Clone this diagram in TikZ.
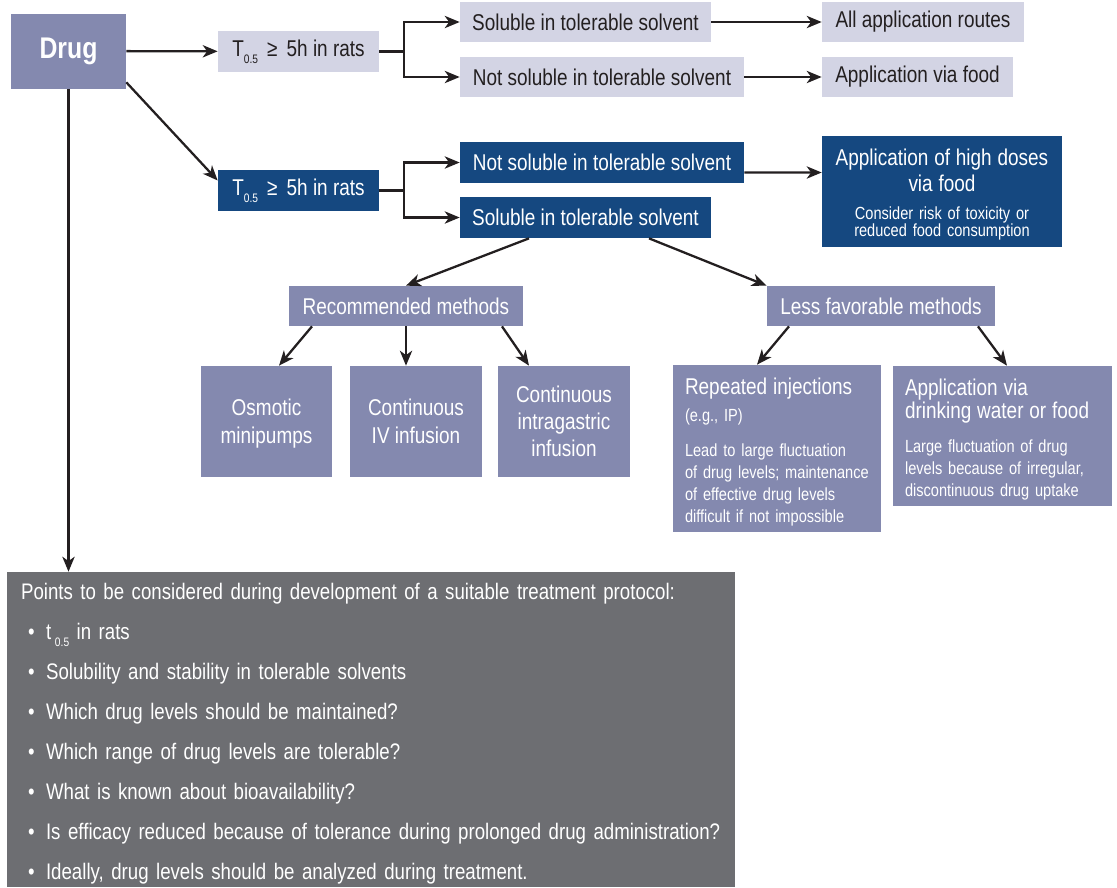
\documentclass[tikz,border=0pt]{standalone}
\usepackage{fontspec}
\setmainfont{Liberation Sans}[FakeStretch=0.83]
\usepackage{tikz}
\usetikzlibrary{arrows.meta}

\definecolor{druglilac}{RGB}{132,137,175}
\definecolor{palelilac}{RGB}{211,212,228}
\definecolor{deepblue}{RGB}{21,72,128}
\definecolor{notegray}{RGB}{109,110,114}
\definecolor{inkblack}{RGB}{35,31,32}

\newcommand{\tsub}{\raisebox{-0.6ex}{\fontsize{7}{7}\selectfont 0.5}}
\newcommand{\gitem}{\makebox[0.5cm][l]{\hspace{0.14cm}\textbullet}}
\newcommand{\bigln}[1]{{\fontsize{13}{15}\selectfont #1}}

\begin{document}
\begin{tikzpicture}
		[x=0.02cm,y=-0.02cm,
		every node/.style={rectangle,inner sep=0pt,text=white,font=\fontsize{13}{15.6}\selectfont},
		pale/.style={fill=palelilac,text=inkblack},
		navy/.style={fill=deepblue},
		lilac/.style={fill=druglilac},
		smalltext/.style={font=\fontsize{10}{12.5}\selectfont},
		line/.style={draw=inkblack,line width=1.3pt},
		edge/.style={line,-{Stealth[length=8.5pt,width=7pt,inset=2.5pt]}}]
		\useasboundingbox (0,0) rectangle (1117,887);
		
		\node[lilac,minimum width=2.3cm,minimum height=1.5cm,font=\fontsize{17}{20}\bfseries] (drug) at (68.5,51) {Drug};
		
		% short half-life
		\node[pale,minimum width=3.22cm,minimum height=0.82cm] (t1) at (298.5,51.5) {T\tsub\,\ ≥\, 5h in rats};
		\node[pale,minimum width=5.02cm,minimum height=0.8cm] (s1) at (585.5,22) {Soluble in tolerable solvent};
		\node[pale,minimum width=5.68cm,minimum height=0.8cm] (n1) at (602,77) {Not soluble in tolerable solvent};
		\node[pale,minimum width=4.04cm,minimum height=0.8cm] (r1) at (923,22) {All application routes};
		\node[pale,minimum width=3.82cm,minimum height=0.8cm] (f1) at (917.5,77) {Application via food};
		
		% long half-life
		\node[navy,minimum width=3.22cm,minimum height=0.82cm] (t2) at (298.5,190.5) {T\tsub\,\ ≥\, 5h in rats};
		\node[navy,minimum width=5.68cm,minimum height=0.82cm] (n2) at (602,162.5) {Not soluble in tolerable solvent};
		\node[navy,minimum width=5.02cm,minimum height=0.82cm] (s2) at (585.5,217.5) {Soluble in tolerable solvent};
		\node[navy,font=\fontsize{10}{9.6}\selectfont,align=center,text width=4.6cm,minimum width=4.8cm,minimum height=2.22cm] (h) at (942,191.5)
			{\lineskiplimit=-20pt\relax
			\bigln{\rule{0pt}{13pt}Application of high doses}\\[5.1pt]\bigln{via food}\\[6.8pt]Consider risk of toxicity or\\reduced food consumption};
		
		% methods
		\node[lilac,minimum width=4.68cm,minimum height=0.8cm] (rec) at (406,306) {Recommended methods};
		\node[lilac,minimum width=4.56cm,minimum height=0.8cm] (less) at (881,306) {Less favorable methods};
		\node[lilac,align=center,minimum width=2.62cm,minimum height=2.22cm] (osm) at (266.5,421.5) {\rule{0pt}{12pt}Osmotic\\minipumps};
		\node[lilac,align=center,minimum width=2.64cm,minimum height=2.22cm] (iv) at (416,421.5) {Continuous\\IV infusion};
		\node[lilac,align=center,font=\fontsize{13}{15.3}\selectfont,minimum width=2.64cm,minimum height=2.22cm] (intra) at (564,421.5) {Continuous\\intragastric\\infusion};
		\node[lilac,smalltext,align=left,text width=3.68cm,minimum width=4.16cm,minimum height=3.34cm] (rep) at (777,448.5)
			{\bigln{\rule{0pt}{13.5pt}Repeated injections}\\[2.8pt](e.g., IP)\\[7.9pt]Lead to large fluctuation\\of drug levels; maintenance\\of effective drug levels\\difficult if not impossible};
		\node[lilac,smalltext,align=left,text width=3.9cm,minimum width=4.38cm,minimum height=2.8cm] (drink) at (1002.5,436)
			{\bigln{\rule{0pt}{13.5pt}Application via}\\[0.5pt]\bigln{drinking water or food}\\[7.3pt]Large fluctuation of drug\\levels because of irregular,\\discontinuous drug uptake};
		
		% points to consider
		\node[fill=notegray,align=left,text width=14cm,minimum width=14.56cm,minimum height=6.3cm,font=\fontsize{12.8}{22.7}\selectfont] (notes) at (371,729.5)
			{\rule{0pt}{14pt}Points to be considered during development of a suitable treatment protocol:\\
			\gitem t\,\tsub\ in rats\\
			\gitem Solubility and stability in tolerable solvents\\
			\gitem Which drug levels should be maintained?\\
			\gitem Which range of drug levels are tolerable?\\
			\gitem What is known about bioavailability?\\
			\gitem Is efficacy reduced because of tolerance during prolonged drug administration?\\
			\gitem Ideally, drug levels should be analyzed during treatment.};
		
		\coordinate (b1) at (404,51.5);
		\coordinate (b2) at (404,190.5);
		
		\draw[line] (t1) -- (b1);
		\draw[line] (t2) -- (b2);
		\foreach \from/\to in {b1/s1,b1/n1,b2/n2,b2/s2}
		\draw[edge] (\from) |- (\to.west);
		\foreach \from/\to in {drug/t1,s1/r1,n1/f1}
		\draw[edge] (\from) -- (\to);
		\draw[edge] ([yshift=0.13cm]drug.south east) -- ([yshift=0.2cm]t2.west);
		\draw[edge] (drug.south) -- (drug.south |- notes.north);
		\draw[edge] ([yshift=-0.2cm]n2.east) -- ([yshift=0.38cm]h.west);
		\draw[edge] ([xshift=-1.13cm]s2.south) -- (rec.north);
		\draw[edge] ([xshift=1.27cm]s2.south) -- (less.north west);
		\draw[edge] ([xshift=-1.88cm]rec.south) -- ([xshift=0.25cm]osm.north);
		\draw[edge] (rec.south) -- (rec.south |- iv.north);
		\draw[edge] ([xshift=1.92cm]rec.south) -- ([xshift=-0.7cm]intra.north);
		\draw[edge] ([xshift=-1.84cm]less.south) -- ([xshift=-0.4cm]rep.north);
		\draw[edge] ([xshift=1.94cm]less.south) -- ([xshift=0.09cm]drink.north);
		\end{tikzpicture}
\end{document}
